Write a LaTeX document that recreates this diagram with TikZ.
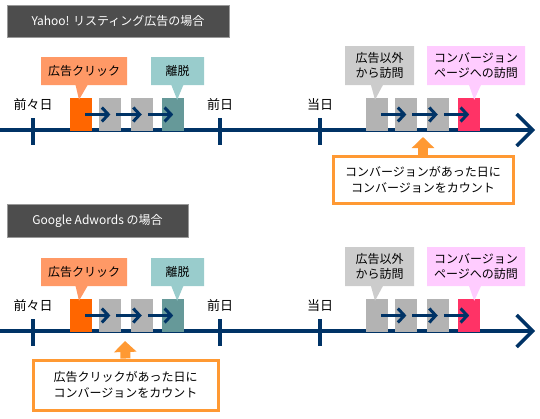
\documentclass[tikz,border=0pt]{standalone}
\usepackage{fontspec}
\setmainfont{Noto Sans CJK JP}
\usetikzlibrary{positioning,shapes.callouts,arrows.meta}

\definecolor{navy}{HTML}{003366}
\definecolor{clickbox}{HTML}{FF6600}
\definecolor{clicknote}{HTML}{FF9966}
\definecolor{leavebox}{HTML}{669999}
\definecolor{leavenote}{HTML}{99CCCC}
\definecolor{pagebox}{HTML}{B3B3B3}
\definecolor{othernote}{HTML}{CCCCCC}
\definecolor{cvbox}{HTML}{FF3366}
\definecolor{cvnote}{HTML}{FFCCFF}
\definecolor{countline}{HTML}{FF9933}
\definecolor{titlefill}{HTML}{4D4D4D}
\definecolor{titleline}{HTML}{999999}

\begin{document}
\begin{tikzpicture}[x=1pt, y=-1pt,
  axis/.style={draw=navy, line width=3.5pt, -{Straight Barb[length=16pt, width=32pt]}},
  tick/.style={draw=navy, line width=3.3pt},
  day/.style={inner sep=0pt, font=\fontsize{13}{15}\selectfont},
  visit/.style={minimum width=22pt, minimum height=33pt, inner sep=0pt},
  flow/.style={draw=navy, line width=3pt, -{Straight Barb[length=6.5pt, width=14pt]}},
  note/.style={rectangle callout, callout pointer width=12pt, inner sep=0pt, align=center, font=\fontsize{12}{15}\selectfont},
  title/.style={draw=titleline, fill=titlefill, text=white, inner sep=0pt, font=\fontsize{12}{14}\selectfont},
  count/.style={draw=countline, line width=3pt, fill=white, inner sep=0pt, align=center, font=\fontsize{12}{16}\selectfont},
  up/.style={draw=countline, line width=10pt, -{Triangle[length=11pt, width=22pt]}}
]
\useasboundingbox (0,0) rectangle (540,418);

\node[title, minimum width=222pt, minimum height=32pt] (ta) at (118,21) {Yahoo! リスティング広告の場合};
\node[title, minimum width=181pt, minimum height=33pt] (tb) at (97.5,220.5) {Google Adwords の場合};

\foreach \p/\dy in {a/0,b/201}{
\begin{scope}[shift={(0,\dy)}]
  % time axis
  \coordinate (\p L) at (0,130);
  \coordinate (\p R) at (535,130);
  \draw[axis] (\p L) -- (\p R);
  \foreach \x in {33,220,320}
    \draw[tick] (\x,118) -- (\x,145);

  \node[day] (\p d2) at (33,105) {前々日};
  \node[day] (\p d1) at (220,105) {前日};
  \node[day] (\p d0) at (320,105) {当日};

  % visits, day before yesterday
  \node[visit, fill=clickbox] (\p o) at (81,114.5) {};
  \node[visit, fill=pagebox, right=7pt of \p o] (\p g1) {};
  \node[visit, fill=pagebox, right=9pt of \p g1] (\p g2) {};
  \node[visit, fill=leavebox, right=9pt of \p g2] (\p x) {};

  % visits, today
  \node[visit, fill=pagebox] (\p h1) at (377,114.5) {};
  \node[visit, fill=pagebox, right=7pt of \p h1] (\p h2) {};
  \node[visit, fill=pagebox, right=9pt of \p h2] (\p h3) {};
  \node[visit, fill=cvbox, right=9pt of \p h3] (\p c) {};

  \draw[flow] ([xshift=4pt]\p o.center) -- (\p g1.center);
  \draw[flow] ([xshift=6pt]\p g1.center) -- (\p g2.center);
  \draw[flow] ([xshift=6pt]\p g2.center) -- (\p x.center);
  \draw[flow] ([xshift=4pt]\p h1.center) -- (\p h2.center);
  \draw[flow] ([xshift=6pt]\p h2.center) -- (\p h3.center);
  \draw[flow] ([xshift=6pt]\p h3.center) -- (\p c.center);

  % notes
  \node[note, fill=clicknote, minimum width=86pt, minimum height=28pt,
    callout absolute pointer={([xshift=-2pt,yshift=-2pt]\p o.north)}] (\p n1) at (84,71) {広告クリック};
  \node[note, fill=leavenote, minimum width=53pt, minimum height=28pt,
    callout absolute pointer={([xshift=4pt,yshift=-2pt]\p x.north)}] (\p n2) at (177.5,71) {離脱};
  \node[note, fill=othernote, minimum width=69pt, minimum height=39pt,
    callout absolute pointer={([xshift=-2pt,yshift=-2pt]\p h1.north)}] (\p n3) at (379.5,65.5) {広告以外\\から訪問};
  \node[note, fill=cvnote, minimum width=98pt, minimum height=39pt,
    callout absolute pointer={([xshift=5pt,yshift=-2pt]\p c.north)}] (\p n4) at (476,65.5) {コンバージョン\\ページへの訪問};
\end{scope}
}

% where the conversion is counted
\node[count, minimum width=180pt, minimum height=47pt] (ca) at (423,179.5) {コンバージョンがあった日に\\コンバージョンをカウント};
\coordinate (ca tip) at (423,137);
\draw[up] (ca.north) -- (ca tip);

\node[count, minimum width=185pt, minimum height=50pt] (cb) at (125.5,385) {広告クリックがあった日に\\コンバージョンをカウント};
\coordinate (cb tip) at (125,341);
\draw[up] (cb.north) -- (cb tip);

\end{tikzpicture}
\end{document}
